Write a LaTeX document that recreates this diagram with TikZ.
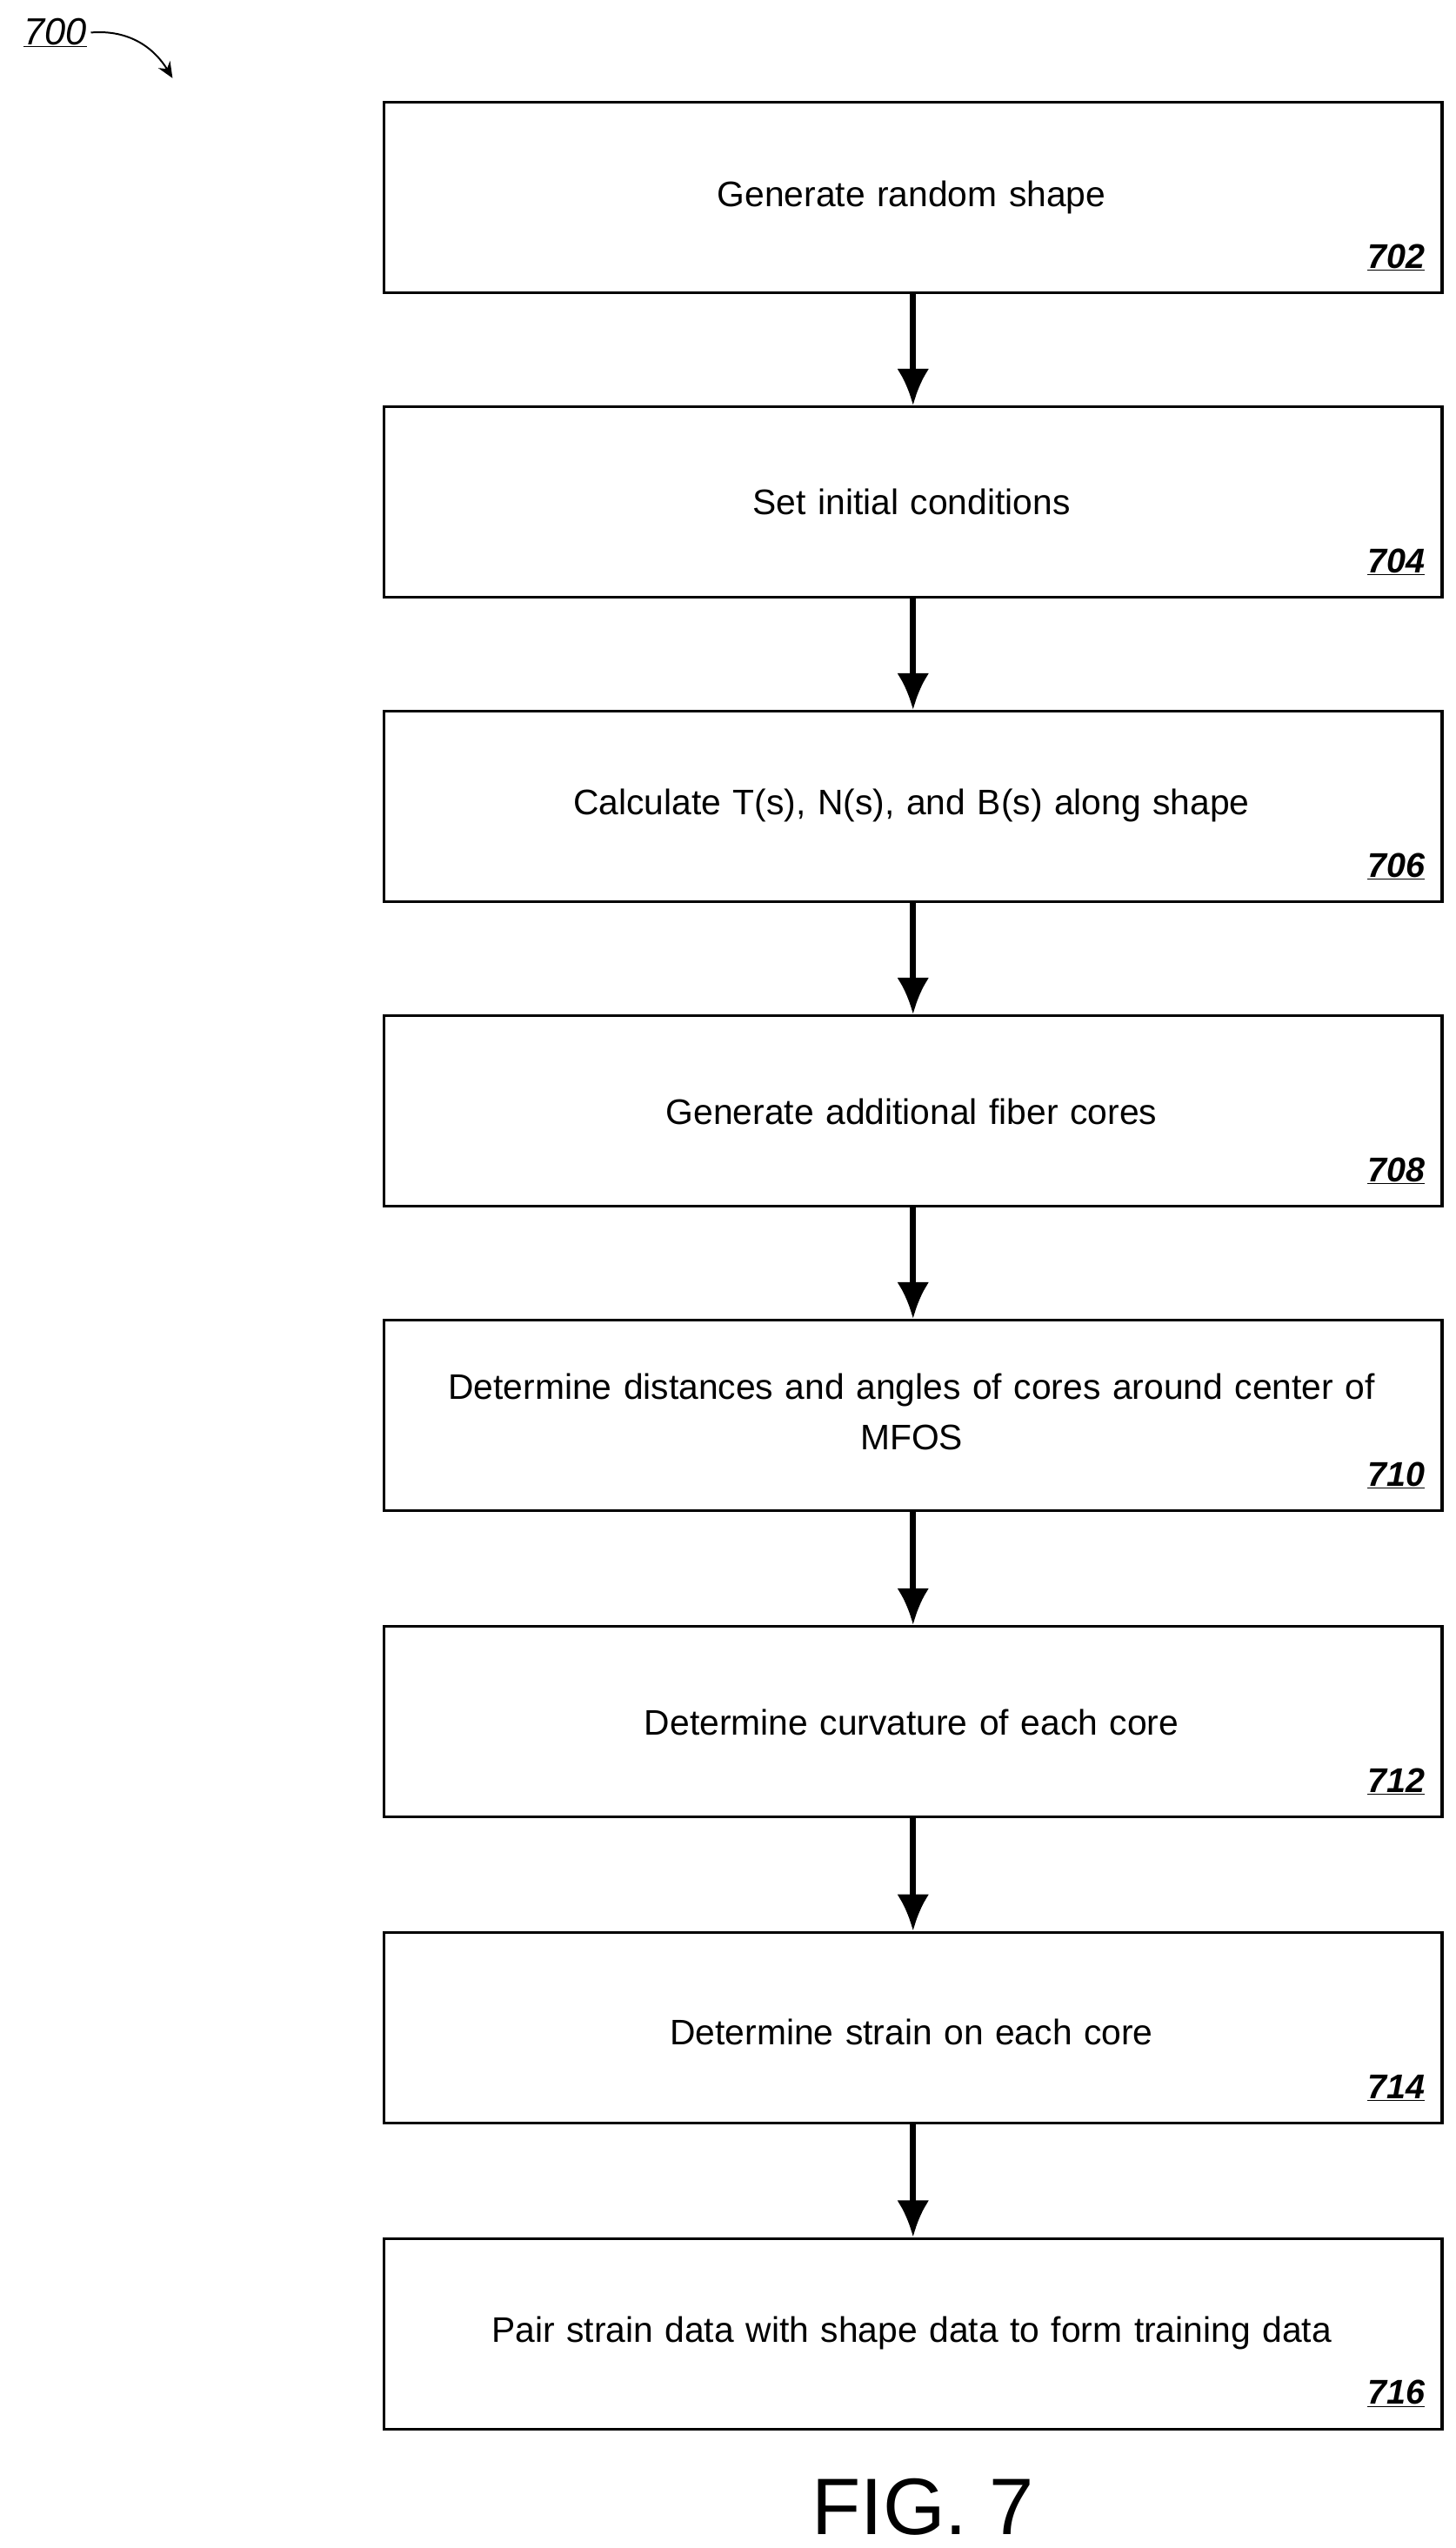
\documentclass[tikz,border=0pt]{standalone}
\usepackage{fontspec}
\setmainfont{Liberation Sans}
\usetikzlibrary{arrows.meta}
\begin{document}
\begin{tikzpicture}[x=0.05cm,y=-0.05cm,
  box/.style={draw,line width=2.6pt,minimum width=32.5cm,minimum height=5.85cm,inner sep=0,anchor=north west},
  txt/.style={font=\fontsize{31}{44}\selectfont,align=center,text width=30.5cm},
  num/.style={font=\fontsize{30}{36}\selectfont\bfseries\itshape,anchor=south east},
  arr/.style={line width=5pt,-{Latex[length=32pt,width=28pt]}}]
\useasboundingbox (0,0) rectangle (894,1565);
\def\ys{62,249,436,623,810,998,1186,1374}
\foreach \y [count=\i] in \ys {\node[box] (b\i) at (235,\y) {};}
\node[txt] (t1) at (560,121) {Generate random shape};
\node[txt] (t2) at (560,308) {Set initial conditions};
\node[txt] (t3) at (560,495) {Calculate T(s), N(s), and B(s) along shape};
\node[txt] (t4) at (560,683) {Generate additional fiber cores};
\node[txt] (t5) at (560,867) {Determine distances and angles of cores around center of\\MFOS};
\node[txt] (t6) at (560,1058) {Determine curvature of each core};
\node[txt] (t7) at (560,1248) {Determine strain on each core};
\node[txt] (t8) at (560,1433) {Pair strain data with shape data to form training data};
\foreach \n [count=\i] in {702,704,706,708,710,712,714,716}
  \node[num] (n\i) at ([xshift=-0.45cm,yshift=0.6cm]b\i.south east) {\underline{\n}};
\foreach \i [evaluate=\i as \j using int(\i+1)] in {1,...,7}
  \draw[arr] (b\i.south) -- (b\j.north);
\node[font=\fontsize{70}{80}\selectfont] (fig) at (567,1540) {FIG. 7};
\node[font=\fontsize{33}{40}\selectfont\itshape] (lab) at (34,20) {\underline{700}};
\coordinate (tip) at (106,48);
\draw[line width=1.5pt,-{Stealth[length=14pt,width=12pt]}] (lab.east) .. controls (80,18) and (95,30) .. (tip);
\end{tikzpicture}
\end{document}
